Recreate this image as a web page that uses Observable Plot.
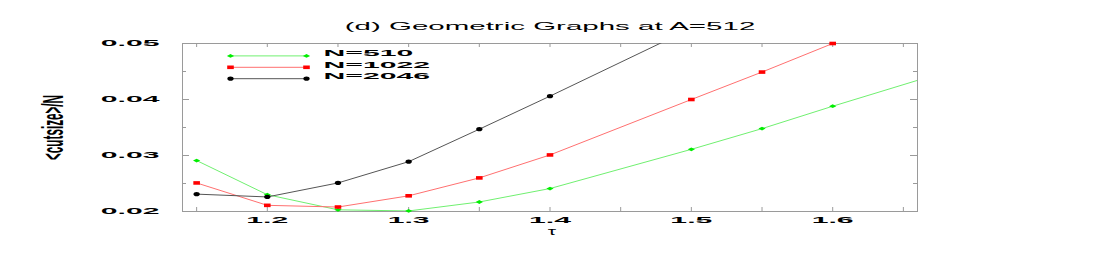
<!DOCTYPE html>
<html><head><meta charset="utf-8">
<script src="https://cdn.jsdelivr.net/npm/d3@7"></script>
<script src="https://cdn.jsdelivr.net/npm/@observablehq/plot@0.6"></script>
<style>
body{margin:0;background:#fff;}
#chart{width:1100px;height:255px;}
</style>
</head><body><div id="chart"></div>
<script>
// ---- data ----
const title = "(d) Geometric Graphs at A=512";
const xLabel = "τ";
const yLabel = "<cutsize>/N";
const seriesNames = ["N=510", "N=1022", "N=2046"];
const tau510  = [1.15, 1.2, 1.25, 1.3, 1.35, 1.4, 1.5, 1.55, 1.6, 1.7];
const val510  = [0.0291, 0.0230, 0.0203, 0.0201, 0.0217, 0.0241, 0.0311, 0.0348, 0.0388, 0.0465];
const tau1022 = [1.15, 1.2, 1.25, 1.3, 1.35, 1.4, 1.5, 1.55, 1.6];
const val1022 = [0.0251, 0.0211, 0.0208, 0.0228, 0.0260, 0.0301, 0.0400, 0.0449, 0.0500];
const tau2046 = [1.15, 1.2, 1.25, 1.3, 1.35, 1.4, 1.5];
const val2046 = [0.0231, 0.0226, 0.0251, 0.0289, 0.0347, 0.0406, 0.0527];
const xTicks = [1.2, 1.3, 1.4, 1.5, 1.6];
const xMinorTicks = [1.15, 1.2, 1.25, 1.3, 1.35, 1.4, 1.45, 1.5, 1.55, 1.6, 1.65];
const yTicks = [0.02, 0.03, 0.04, 0.05];
const yMajorInner = [0.03, 0.04];
const yMinorTicks = [0.025, 0.035, 0.045];
const xDomain = [1.14, 1.66];
const yDomain = [0.02, 0.05];

// ---- styles ----
const W = 1100, H = 255;
const mL = 182, mR = 183, mT = 43, mB = 44;
const FW = W - mL - mR, FH = H - mT - mB;
const lineColors = ["#70f070", "#ff7070", "#555555"];
const markColors = ["#00ee00", "#ff0000", "#000000"];
const frameColor = "#9a9a9a";
const font = "'Liberation Sans', Arial, Helvetica, sans-serif";
const FS_BOLD = 8.5, FS_TITLE = 10, FS_TAU = 10.5, FS_YT = 30;

const symDiamond = {draw(c) { c.moveTo(-3.6, 0); c.lineTo(0, -1.9); c.lineTo(3.6, 0); c.lineTo(0, 1.9); c.closePath(); }};
const symRect = {draw(c) { c.rect(-3.3, -1.8, 6.6, 3.6); }};
const symEllipse = {draw(c) {
  const rx = 3.2, ry = 2.1, k = 0.5523;
  c.moveTo(rx, 0);
  c.bezierCurveTo(rx, ry * k, rx * k, ry, 0, ry);
  c.bezierCurveTo(-rx * k, ry, -rx, ry * k, -rx, 0);
  c.bezierCurveTo(-rx, -ry * k, -rx * k, -ry, 0, -ry);
  c.bezierCurveTo(rx * k, -ry, rx, -ry * k, rx, 0);
  c.closePath();
}};
const symbols = [symDiamond, symRect, symEllipse];
const lineShape = {draw(c, l) { c.moveTo(0, 0); c.lineTo(0, -l); }};

const taus = [tau510, tau1022, tau2046];
const vals = [val510, val1022, val2046];
const rows = seriesNames.map((s, i) => taus[i].map((t, j) => ({series: s, tau: t, value: vals[i][j]})));
const inDomain = d => d.tau >= xDomain[0] && d.tau <= xDomain[1] && d.value >= yDomain[0] && d.value <= yDomain[1];

const marks = [];
marks.push(Plot.frame({stroke: frameColor}));
marks.push(Plot.tickX(xMinorTicks, {x: d => d, insetTop: FH - 4, stroke: frameColor}));
marks.push(Plot.tickX(xMinorTicks, {x: d => d, insetBottom: FH - 4, stroke: frameColor}));
marks.push(Plot.tickY(yMajorInner, {y: d => d, insetRight: FW - 7, stroke: frameColor}));
marks.push(Plot.tickY(yMinorTicks, {y: d => d, insetRight: FW - 4, stroke: frameColor}));
marks.push(Plot.tickY(yMajorInner, {y: d => d, insetLeft: FW - 7, stroke: frameColor}));
marks.push(Plot.tickY(yMinorTicks, {y: d => d, insetLeft: FW - 4, stroke: frameColor}));
rows.forEach((r, i) => marks.push(Plot.line(r, {x: "tau", y: "value", stroke: lineColors[i], strokeWidth: 1, clip: true})));
rows.forEach((r, i) => marks.push(Plot.dot(r, {x: "tau", y: "value", symbol: symbols[i], fill: markColors[i], stroke: "none", filter: inDomain})));
seriesNames.forEach((s, i) => {
  const ly = 12.4 + 11.4 * i;
  marks.push(Plot.vector([0], {frameAnchor: "top-left", dx: 48, dy: ly, length: 76, rotate: 90, anchor: "start", shape: lineShape, stroke: lineColors[i], strokeWidth: 1}));
  marks.push(Plot.dot([0], {frameAnchor: "top-left", dx: 48, dy: ly, symbol: symbols[i], fill: markColors[i], stroke: "none"}));
  marks.push(Plot.dot([0], {frameAnchor: "top-left", dx: 124, dy: ly, symbol: symbols[i], fill: markColors[i], stroke: "none"}));
  marks.push(Plot.text([s], {frameAnchor: "top-left", dx: 141, dy: ly - 2.5, textAnchor: "start", lineAnchor: "middle", fontWeight: "bold", fontSize: FS_BOLD, fill: "#000"}));
});
marks.push(Plot.text(yTicks, {y: d => d, frameAnchor: "left", dx: -23, textAnchor: "end", lineAnchor: "middle", text: d => d.toFixed(2), fontWeight: "bold", fontSize: FS_BOLD, fill: "#000"}));
marks.push(Plot.text(xTicks, {x: d => d, frameAnchor: "bottom", dy: 9, textAnchor: "middle", lineAnchor: "middle", text: d => d.toFixed(1), fontWeight: "bold", fontSize: FS_BOLD, fill: "#000"}));
marks.push(Plot.text([xLabel], {frameAnchor: "bottom", dx: 2, dy: 20, textAnchor: "middle", lineAnchor: "middle", fontSize: FS_TAU, fill: "#000"}));
marks.push(Plot.text([yLabel], {frameAnchor: "left", dx: -129, rotate: -90, textAnchor: "middle", lineAnchor: "middle", fontSize: FS_YT, fontWeight: "bold", fill: "#000"}));
marks.push(Plot.text([title], {frameAnchor: "top", dy: -17, textAnchor: "middle", lineAnchor: "middle", fontSize: FS_TITLE, fill: "#000"}));

const chart = Plot.plot({
  width: W, height: H,
  marginLeft: mL, marginRight: mR, marginTop: mT, marginBottom: mB,
  x: {domain: xDomain, axis: null},
  y: {domain: yDomain, axis: null},
  style: {fontFamily: font, background: "#fff", overflow: "visible"},
  marks
});
document.getElementById("chart").appendChild(chart);

// horizontal stretch of the text glyphs, as in the reference
const stretchBySize = {[FS_BOLD]: 3.55, [FS_TITLE]: 2.95, [FS_TAU]: 2, [FS_YT]: 0.39};
chart.querySelectorAll("text").forEach(t => {
  let el = t, fs = null;
  while (el && el !== chart) {
    const a = el.getAttribute && el.getAttribute("font-size");
    if (a) { fs = parseFloat(a); break; }
    el = el.parentNode;
  }
  const sx = stretchBySize[fs];
  if (!sx) return;
  const tr = t.getAttribute("transform") || "";
  t.setAttribute("transform", (tr + ` scale(${sx},1)`).trim());
});
</script>
</body></html>
